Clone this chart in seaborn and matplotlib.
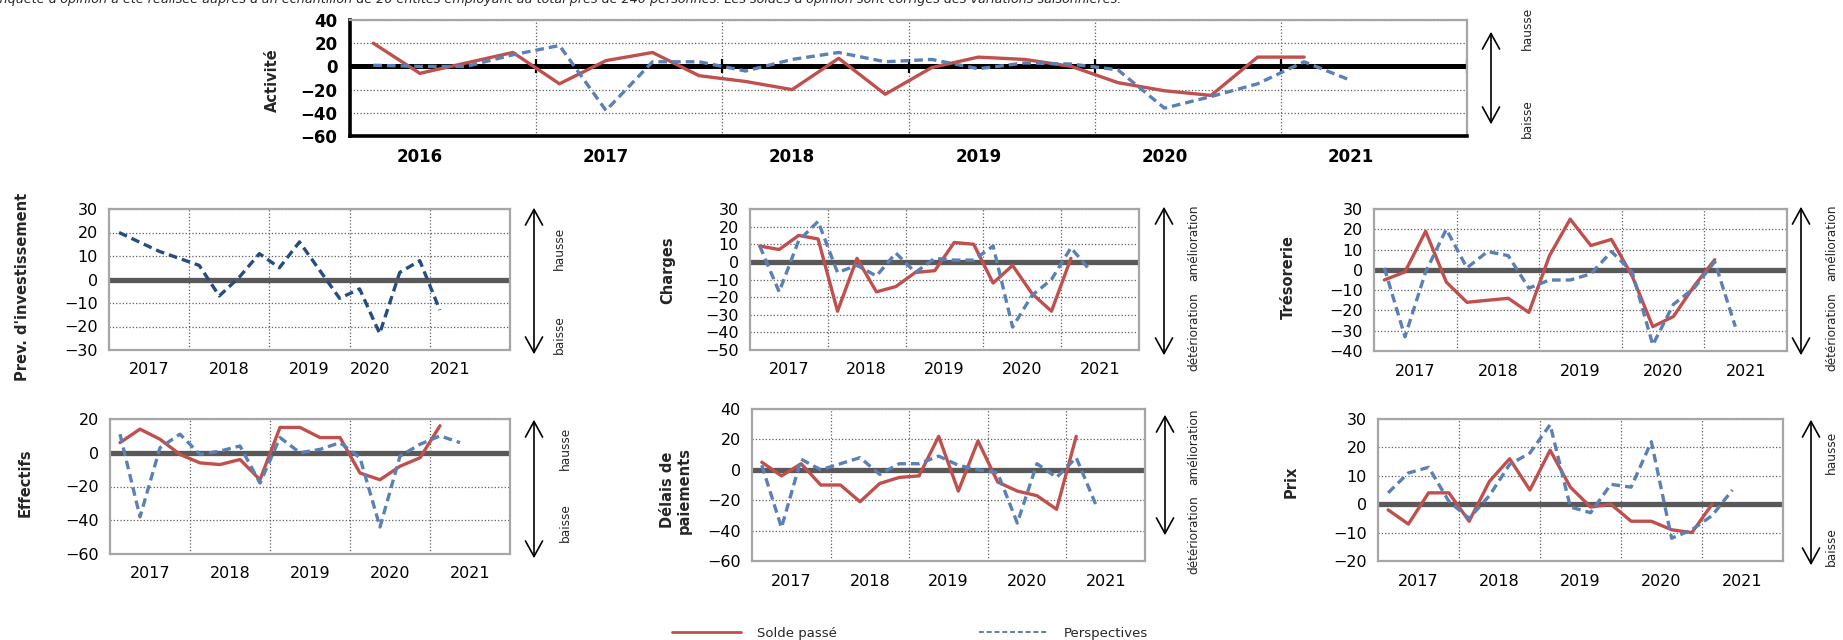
import numpy as np
import pandas as pd
import matplotlib
matplotlib.use("Agg")
import matplotlib.pyplot as plt
import seaborn as sns
from matplotlib.patches import FancyArrowPatch

W, H = 1843, 640
RED = "#C0504D"
BLUE = "#5B80B5"
NAVY = "#264C82"

# ---------------- data ----------------
years_top = ["2016", "2017", "2018", "2019", "2020", "2021"]
years_small = ["2017", "2018", "2019", "2020", "2021"]

act_passe = [20, -6, 3, 12, -15, 5, 12, -8, -13, -20, 7, -24, -1, 8, 6, 0, -14, -21, -25, 8, 8]
act_persp = [1, 0, 0, 10, 18, -38, 4, 4, -4, 6, 12, 4, 6, -2, 3, 2, -3, -36, -26, -15, 4, -12]

inv_persp = [20, 16, 12, 9, 6, -7, 1, 11, 5, 16, 4, -8, -4, -23, 3, 8, -13]

chg_passe = [9, 7, 15, 13, -28, 2, -17, -14, -6, -5, 11, 10, -12, -2, -18, -28, 2]
chg_persp = [9, -17, 12, 23, -6, -2, -8, 5, -6, 2, 1, 1, 9, -37, -19, -10, 8, -5]

tre_passe = [-5, -1, 19, -6, -16, -15, -14, -21, 7, 25, 12, 15, -3, -28, -23, -8, 5]
tre_persp = [1, -33, -1, 20, 1, 9, 7, -9, -5, -5, -2, 9, -1, -37, -17, -9, 4, -28]

eff_passe = [6, 14, 8, -1, -6, -7, -4, -16, 15, 15, 9, 9, -12, -16, -8, -3, 16]
eff_persp = [11, -38, 3, 11, -1, 1, 4, -18, 9, 0, 2, 6, -3, -44, -2, 5, 10, 6]

del_passe = [5, -4, 4, -10, -10, -21, -9, -5, -4, 22, -14, 19, -8, -14, -17, -26, 22]
del_persp = [3, -38, 7, 0, 4, 8, -3, 4, 4, 9, 3, 0, -2, -35, 4, -5, 8, -23]

prix_passe = [-2, -7, 4, 4, -6, 8, 16, 5, 19, 6, -1, 0, -6, -6, -9, -10, 0]
prix_persp = [4, 11, 13, 1, -5, 3, 14, 18, 28, -1, -3, 7, 6, 22, -12, -9, -4, 5]

note = ("L'enquête d'opinion a été réalisée auprès d'un échantillon de 20 entités employant "
        "au total près de 240 personnes. Les soldes d'opinion sont corrigés des variations saisonnières.")

# ---------------- style ----------------
sns.set_style("white")
plt.rcParams["font.family"] = ["DejaVu Sans"]

fig = plt.figure(figsize=(W / 100, H / 100), dpi=100)


def px_axes(l, t, r, b):
    return fig.add_axes([l / W, 1 - b / H, (r - l) / W, (b - t) / H])


def df_of(vals):
    return pd.DataFrame({"q": np.arange(len(vals)) + 0.5, "v": vals})


DASH = (0, (2.6, 1.5))
LW = 2.4


def draw_lines(ax, passe, persp, persp_color=BLUE):
    if passe is not None:
        sns.lineplot(data=df_of(passe), x="q", y="v", ax=ax, color=RED, lw=LW, zorder=3)
    sns.lineplot(data=df_of(persp), x="q", y="v", ax=ax, color=persp_color, lw=LW,
                 linestyle=DASH, zorder=3)
    ax.set_xlabel("")
    ax.set_ylabel("")


def small(box, passe, persp, ylim, ystep, label_pos, persp_color=BLUE):
    ax = px_axes(*box)
    draw_lines(ax, passe, persp, persp_color)
    ax.set_xlim(0, 20)
    ax.set_ylim(*ylim)
    ax.set_yticks(np.arange(ylim[0], ylim[1] + 1, ystep))
    ax.set_xticks(label_pos, years_small)
    ax.set_xticks(np.arange(4, 20, 4), minor=True)
    ax.set_axisbelow(True)
    ax.grid(axis="y", which="major", ls=":", color="#5f5f5f", lw=0.9)
    ax.grid(axis="x", which="minor", ls=":", color="#5f5f5f", lw=0.9)
    ax.grid(axis="x", which="major", visible=False)
    ax.axhline(0, color="#595959", lw=3.8, zorder=2)
    for s in ax.spines.values():
        s.set_color("#A6A6A6")
        s.set_linewidth(1.6)
    ax.tick_params(axis="both", which="both", length=0, labelsize=11.5, colors="black")
    ax.tick_params(axis="x", pad=9)
    ax.tick_params(axis="y", pad=8)
    return ax


def arrow(x, y0, y1):
    fig.add_artist(FancyArrowPatch((x / W, 1 - y1 / H), (x / W, 1 - y0 / H),
                                   transform=fig.transFigure,
                                   arrowstyle="<->,head_length=0.8,head_width=0.44",
                                   mutation_scale=14, lw=1.2, color="black"))


def vtext(x, y, s, size=8.7, bold=False):
    fig.text(x / W, 1 - y / H, s, rotation=90, ha="center", va="center",
             fontsize=size, fontweight="bold" if bold else "normal", linespacing=1.1)


# ---------------- top chart: Activité ----------------
ax = px_axes(350, 20, 1467, 136)
draw_lines(ax, act_passe, act_persp)
ax.set_xlim(0, 24)
ax.set_ylim(-60, 40)
ax.set_yticks(np.arange(-60, 41, 20))
ax.set_xticks(np.arange(len(years_top)) * 4 + 1.5, years_top)
ax.set_xticks(np.arange(4, 24, 4), minor=True)
ax.set_axisbelow(True)
ax.grid(axis="y", which="major", ls=":", color="#5f5f5f", lw=0.9)
ax.grid(axis="x", which="minor", ls=":", color="#5f5f5f", lw=0.9)
ax.grid(axis="x", which="major", visible=False)
ax.axhline(0, color="black", lw=3.6, zorder=2)
ax.vlines(np.arange(4, 25, 4), -6, 6, color="black", lw=1.6, zorder=2)
for side in ["top", "right"]:
    ax.spines[side].set_color("#A6A6A6")
    ax.spines[side].set_linewidth(1.6)
for side in ["left", "bottom"]:
    ax.spines[side].set_color("black")
    ax.spines[side].set_linewidth(2.6)
ax.tick_params(axis="both", which="both", length=0, labelsize=12, colors="black")
ax.tick_params(axis="x", pad=9)
ax.tick_params(axis="y", pad=9)
for lab in ax.get_xticklabels() + ax.get_yticklabels():
    lab.set_fontweight("bold")
vtext(272, 80, "Activité", size=10.5, bold=True)
arrow(1491, 29, 127)
vtext(1527, 28, "hausse")
vtext(1527, 119, "baisse")

# ---------------- small charts ----------------
small((109, 209, 510, 350), None, inv_persp, (-30, 30), 10, [2, 6, 10, 13, 17], persp_color=NAVY)
vtext(23, 287, "Prev. d'investissement", size=10.5, bold=True)
arrow(534, 205, 357)
vtext(559, 248, "hausse")
vtext(559, 335, "baisse")

small((750, 209, 1139, 350), chg_passe, chg_persp, (-50, 30), 10, [2, 6, 10, 14, 18])
vtext(668, 270, "Charges", size=10.5, bold=True)
arrow(1164, 204, 358)
vtext(1194, 243, "amélioration")
vtext(1194, 332, "détérioration")

small((1374, 209, 1787, 351), tre_passe, tre_persp, (-40, 30), 10, [2, 6, 10, 14, 18])
vtext(1288, 277, "Trésorerie", size=10.5, bold=True)
arrow(1801, 204, 358)
vtext(1832, 243, "amélioration")
vtext(1832, 332, "détérioration")

small((110, 419, 510, 554), eff_passe, eff_persp, (-60, 20), 20, [2, 6, 10, 14, 18])
vtext(25, 483, "Effectifs", size=10.5, bold=True)
arrow(534, 417, 561)
vtext(565, 448, "hausse")
vtext(565, 523, "baisse")

small((752, 409, 1145, 561), del_passe, del_persp, (-60, 40), 20, [2, 6, 10, 14, 18])
vtext(676, 490, "Délais de\npaiements", size=10.5, bold=True)
arrow(1165, 412, 538)
vtext(1194, 447, "amélioration")
vtext(1194, 535, "détérioration")

small((1378, 419, 1783, 561), prix_passe, prix_persp, (-20, 30), 10, [2, 6, 10, 14, 18])
vtext(1291, 482, "Prix", size=10.5, bold=True)
arrow(1811, 417, 568)
vtext(1831, 452, "hausse")
vtext(1831, 547, "baisse")

# ---------------- legend ----------------
handles = [plt.Line2D([], [], color=RED, lw=2.0),
           plt.Line2D([], [], color=BLUE, lw=1.4, linestyle=(0, (2.5, 1.5)))]
fig.legend(handles, ["Solde passé", "Perspectives"], loc="center",
           bbox_to_anchor=(910 / W, 1 - 633 / H), ncol=2, frameon=False,
           fontsize=9.5, handlelength=5.2, handletextpad=1.2, columnspacing=10.8,
           borderpad=0, borderaxespad=0)

# ---------------- cut-off note at top ----------------
fig.text(-19 / W, 1 - 3 / H, note, fontsize=9.2, style="italic", ha="left", va="baseline")

fig.savefig("out.png", dpi=100)
